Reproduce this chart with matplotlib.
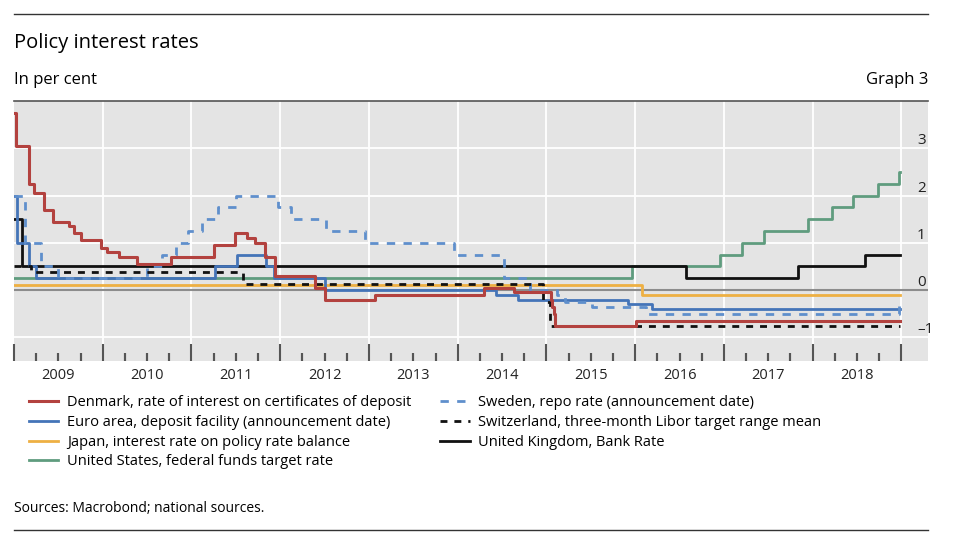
import numpy as np
import matplotlib.pyplot as plt

plt.rcParams['font.family'] = ['Open Sans', 'DejaVu Sans']

# policy rate changes, dates as decimal years, values in per cent
dk_x = [2009.0, 2009.02, 2009.17, 2009.23, 2009.34, 2009.44, 2009.62, 2009.68, 2009.75,
        2009.98, 2010.05, 2010.18, 2010.39, 2010.77, 2011.25, 2011.49, 2011.63, 2011.72,
        2011.83, 2011.94, 2012.39, 2012.5, 2013.07, 2014.3, 2014.64, 2015.05, 2015.06,
        2015.08, 2015.1, 2016.01, 2018.99]
dk_y = [3.75, 3.05, 2.25, 2.05, 1.70, 1.45, 1.35, 1.20, 1.05,
        0.90, 0.80, 0.70, 0.55, 0.70, 0.95, 1.20, 1.10, 1.00,
        0.70, 0.30, 0.05, -0.20, -0.10, 0.05, -0.05, -0.20, -0.35,
        -0.50, -0.75, -0.65, -0.65]

ea_x = [2009.0, 2009.03, 2009.17, 2009.25, 2011.26, 2011.51, 2011.84, 2011.93, 2012.51,
        2014.43, 2014.68, 2015.92, 2016.19, 2018.99]
ea_y = [2.0, 1.0, 0.5, 0.25, 0.5, 0.75, 0.5, 0.25, 0.0, -0.1, -0.2, -0.3, -0.4, -0.4]

jp_x = [2009.0, 2016.08, 2018.99]
jp_y = [0.1, -0.1, -0.1]

us_x = [2009.0, 2015.96, 2016.96, 2017.2, 2017.45, 2017.95, 2018.22, 2018.45, 2018.74,
        2018.97, 2018.99]
us_y = [0.25, 0.5, 0.75, 1.0, 1.25, 1.5, 1.75, 2.0, 2.25, 2.5, 2.5]

se_x = [2009.0, 2009.12, 2009.3, 2009.5, 2010.5, 2010.67, 2010.82, 2010.96, 2011.12,
        2011.3, 2011.5, 2011.97, 2012.12, 2012.52, 2012.96, 2013.96, 2014.52, 2014.82,
        2015.12, 2015.21, 2015.51, 2016.12, 2018.97, 2018.99]
se_y = [2.0, 1.0, 0.5, 0.25, 0.5, 0.75, 1.0, 1.25, 1.5,
        1.75, 2.0, 1.75, 1.5, 1.25, 1.0, 0.75, 0.25, 0.0,
        -0.1, -0.25, -0.35, -0.5, -0.25, -0.25]

ch_x = [2009.0, 2009.19, 2011.58, 2014.96, 2015.04, 2018.99]
ch_y = [0.5, 0.375, 0.125, -0.25, -0.75, -0.75]

uk_x = [2009.0, 2009.085, 2009.095, 2016.57, 2017.84, 2018.59, 2018.99]
uk_y = [1.5, 1.0, 0.5, 0.25, 0.5, 0.75, 0.75]

years = list(range(2009, 2019))
yticks = [-1, 0, 1, 2, 3]

labels = ["Denmark, rate of interest on certificates of deposit",
          "Euro area, deposit facility (announcement date)",
          "Japan, interest rate on policy rate balance",
          "United States, federal funds target rate",
          "Sweden, repo rate (announcement date)",
          "Switzerland, three-month Libor target range mean",
          "United Kingdom, Bank Rate"]


def main():
    fig = plt.figure(figsize=(9.6, 5.45), dpi=100)
    ax = fig.add_axes([14/960, 1 - 361/545, 914/960, 260/545])
    ax.set_facecolor('#e4e4e4')
    ax.set_axisbelow(False)

    ax.axhline(0, color='#8c8c8c', lw=1.5, zorder=1.5)

    series = [
        (dk_x, dk_y, dict(color='#b3423f', lw=2.2, zorder=9)),
        (ea_x, ea_y, dict(color='#4474b8', lw=2.0, zorder=6)),
        (jp_x, jp_y, dict(color='#eeb043', lw=2.0, zorder=3)),
        (us_x, us_y, dict(color='#5f9c7e', lw=2.0, zorder=4)),
        (se_x, se_y, dict(color='#5f8fcc', lw=2.0, zorder=7, linestyle=(0, (3, 3)))),
        (ch_x, ch_y, dict(color='#111111', lw=2.0, zorder=8, linestyle=(0, (2.5, 2.5)))),
        (uk_x, uk_y, dict(color='#111111', lw=2.0, zorder=5)),
    ]
    for (x, y, kw), lab in zip(series, labels):
        ax.step(x, y, where='post', label=lab, **kw)

    ax.set_xlim(2009.0, 2019.3)
    ax.set_ylim(-1.5, 4.0)

    # grid
    ax.set_yticks(yticks)
    ax.set_yticklabels([str(v).replace('-', '\u2013') for v in yticks])
    for v in yticks:
        if v != 0:
            ax.axhline(v, color='white', lw=1.3, zorder=1)
    for yr in years[1:] + [2019]:
        ax.axvline(yr, color='white', lw=1.3, zorder=1)

    ax.tick_params(axis='y', length=0, labelleft=False, labelright=True, pad=-8,
                   labelsize=11, labelcolor='#222222')
    for t in ax.get_yticklabels():
        t.set_va('bottom')

    # x axis: quarterly ticks, longer at year starts, year labels mid-year
    q = [yr + f for yr in years for f in (0.0, 0.25, 0.5, 0.75)] + [2019]
    ax.set_xticks(q)
    ax.set_xticklabels([str(int(v)) if v % 1 == 0.5 else '' for v in q])
    ax.tick_params(axis='x', direction='in', length=6, width=1.5, color='#555555',
                   labelsize=10.5, pad=5, labelcolor='#222222')
    for v, tick in zip(q, ax.xaxis.get_major_ticks()):
        if v % 1 == 0:
            tick.tick1line.set_markersize(12)
    # short quarter marks, drawn again so they sit on top of the grey band
    qm = [v for v in q if v % 1 != 0]
    ax.vlines(qm, 0, 0.032, transform=ax.get_xaxis_transform(), color='#555555',
              lw=1.5, zorder=10, clip_on=False)

    for s in ['left', 'right', 'bottom']:
        ax.spines[s].set_visible(False)
    ax.spines['top'].set_color('#555555')
    ax.spines['top'].set_linewidth(1.2)

    # header / footer
    fig.add_artist(plt.Line2D([14/960, 928/960], [1 - 14/545, 1 - 14/545], color='#333333', lw=1.0))
    fig.add_artist(plt.Line2D([14/960, 928/960], [1 - 530/545, 1 - 530/545], color='#333333', lw=1.0))
    fig.text(14/960, 1 - 43/545, "Policy interest rates", fontsize=14.5, va='center', ha='left')
    fig.text(14/960, 1 - 80/545, "In per cent", fontsize=12, va='center', ha='left')
    fig.text(928/960, 1 - 80/545, "Graph 3", fontsize=12, va='center', ha='right')
    fig.text(14/960, 1 - 509/545, "Sources: Macrobond; national sources.", fontsize=10,
             va='center', ha='left')

    fig.legend(loc='upper left', bbox_to_anchor=(29/960, 1 - 395/545), ncol=2, frameon=False,
               fontsize=10.5, borderpad=0, borderaxespad=0, handlelength=2.0, handletextpad=0.6,
               columnspacing=2.0, labelspacing=0.33)

    fig.savefig('out.png', dpi=100)


if __name__ == "__main__":
    main()
